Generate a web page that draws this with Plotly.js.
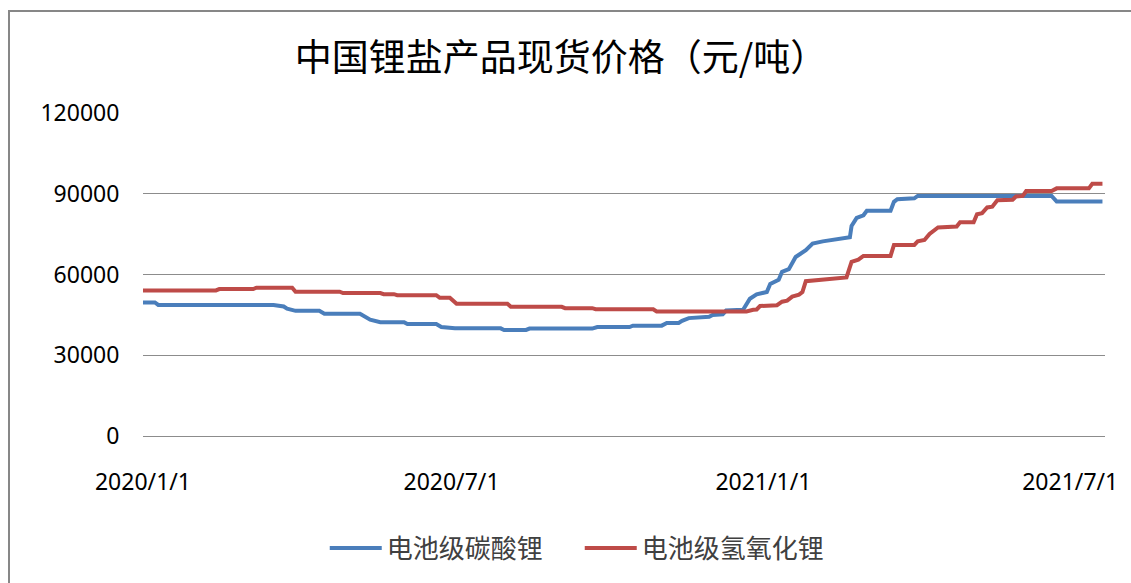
<!DOCTYPE html>
<html>
<head>
<meta charset="utf-8">
<script src="https://cdn.plot.ly/plotly-3.0.1.min.js"></script>
<style>
  html, body { margin: 0; padding: 0; background: #ffffff; overflow: hidden; }
  #chart { position: absolute; left: 0; top: 0; width: 1131px; height: 583px; }
  #frame { position: absolute; left: 8px; top: 10px; width: 1200px; height: 700px;
           border-left: 2px solid #878787; border-top: 2px solid #878787; pointer-events: none; z-index: 5; }
</style>
</head>
<body>
<div id="chart"></div>
<div id="frame"></div>
<script>
// ---- data ----
const chartTitle = "中国锂盐产品现货价格（元/吨）";
const seriesNames = ["电池级碳酸锂", "电池级氢氧化锂"];
const xTickVals = ["2020-01-01", "2020-07-01", "2021-01-01", "2021-07-01"];
const xTickText = ["2020/1/1", "2020/7/1", "2021/1/1", "2021/7/1"];
const yTickVals = [0, 30000, 60000, 90000, 120000];

const carbonateDates = [
  "2020-01-01","2020-01-08","2020-01-10","2020-03-18","2020-03-24","2020-03-26","2020-03-31",
  "2020-04-14","2020-04-17","2020-05-08","2020-05-14","2020-05-20","2020-06-03","2020-06-05",
  "2020-06-22","2020-06-25","2020-07-03","2020-07-30","2020-08-01","2020-08-14","2020-08-16",
  "2020-09-22","2020-09-25","2020-10-14","2020-10-16","2020-11-02","2020-11-05","2020-11-12",
  "2020-11-14","2020-11-18","2020-11-30","2020-12-02","2020-12-08","2020-12-10","2020-12-20",
  "2020-12-24","2020-12-28","2021-01-03","2021-01-05","2021-01-10","2021-01-12","2021-01-16",
  "2021-01-20","2021-01-26","2021-01-30","2021-02-05","2021-02-21","2021-02-22","2021-02-25",
  "2021-03-01","2021-03-03","2021-03-17","2021-03-19","2021-03-21","2021-03-31","2021-04-02",
  "2021-06-20","2021-06-23","2021-07-20"
];
const carbonateValues = [
  49600,49600,48700,48700,48100,47300,46500,
  46500,45400,45400,43200,42300,42300,41600,
  41600,40500,40000,40000,39400,39400,39900,
  39900,40500,40500,41000,41000,42000,42000,
  42800,43800,44300,45000,45200,46600,46900,
  51000,52600,53500,56500,58000,61000,62000,
  66500,69000,71500,72300,73800,78000,81000,
  82000,83700,83700,87000,88000,88300,89200,
  89200,87100,87100
];

const hydroxideDates = [
  "2020-01-01","2020-02-13","2020-02-15","2020-03-06","2020-03-08","2020-03-29","2020-03-31",
  "2020-04-26","2020-04-28","2020-05-20","2020-05-22","2020-05-28","2020-05-30","2020-06-22",
  "2020-06-24","2020-06-30","2020-07-04","2020-08-03","2020-08-05","2020-09-04","2020-09-06",
  "2020-09-22","2020-09-24","2020-10-28","2020-10-30","2020-12-22","2020-12-26","2020-12-28",
  "2020-12-30","2021-01-09","2021-01-12","2021-01-15","2021-01-18","2021-01-22","2021-01-24",
  "2021-01-26","2021-02-19","2021-02-22","2021-02-26","2021-03-01","2021-03-17","2021-03-19",
  "2021-03-31","2021-04-02","2021-04-06","2021-04-09","2021-04-14","2021-04-25","2021-04-27",
  "2021-05-05","2021-05-07","2021-05-10","2021-05-13","2021-05-16","2021-05-19","2021-05-28",
  "2021-05-30","2021-06-03","2021-06-05","2021-06-20","2021-06-23","2021-07-12","2021-07-14",
  "2021-07-20"
];
const hydroxideValues = [
  54100,54100,54600,54600,55100,55100,53600,
  53600,53100,53100,52700,52700,52300,52300,
  51400,51400,49100,49100,48000,48000,47500,
  47500,47100,47100,46300,46300,46900,47000,
  48300,48600,49900,50300,51800,52500,53500,
  57500,58900,64700,65500,66900,66900,71000,
  71000,72300,72800,75100,77500,77800,79400,
  79400,82400,82800,84900,85200,87600,87800,
  89000,89200,91000,91000,92000,92000,93700,
  93700
];

// ---- chart ----
const traces = [
  { x: carbonateDates, y: carbonateValues, name: seriesNames[0], type: "scatter", mode: "lines",
    line: { color: "#4a7ebb", width: 4 } },
  { x: hydroxideDates, y: hydroxideValues, name: seriesNames[1], type: "scatter", mode: "lines",
    line: { color: "#be4b48", width: 4 } }
];

const layout = {
  width: 1131, height: 583,
  paper_bgcolor: "#ffffff", plot_bgcolor: "#ffffff",
  margin: { l: 143, r: 26, t: 113, b: 144 },
  title: { text: chartTitle, x: 0.496, xanchor: "center", y: 0.9, yanchor: "middle",
           font: { family: "Noto Sans CJK SC", size: 37, color: "#000000" } },
  showlegend: true,
  legend: { orientation: "h", x: 0.454, xanchor: "center", y: -0.347, yanchor: "middle",
            font: { family: "Noto Sans CJK SC", size: 26, color: "#404040" },
            itemwidth: 52, entrywidth: 188, entrywidthmode: "pixels", traceorder: "normal" },
  xaxis: {
    type: "date", range: ["2020-01-01", "2021-07-21 12:00"],
    tickvals: xTickVals, ticktext: xTickText,
    showgrid: false, zeroline: false, showline: false,
    ticks: "outside", ticklen: 25, tickcolor: "rgba(0,0,0,0)",
    tickfont: { family: "Noto Sans", size: 23, color: "#000000" }
  },
  yaxis: {
    range: [0, 120000], tickvals: yTickVals, ticktext: yTickVals.map(String),
    showgrid: true, gridcolor: "#8c8c8c", gridwidth: 1,
    zeroline: true, zerolinecolor: "#8c8c8c", zerolinewidth: 1, showline: false,
    ticks: "outside", ticklen: 18, tickcolor: "rgba(0,0,0,0)",
    tickfont: { family: "Noto Sans", size: 23, color: "#000000" }
  }
};

Plotly.newPlot("chart", traces, layout, { displayModeBar: false, staticPlot: true });
</script>
</body>
</html>
